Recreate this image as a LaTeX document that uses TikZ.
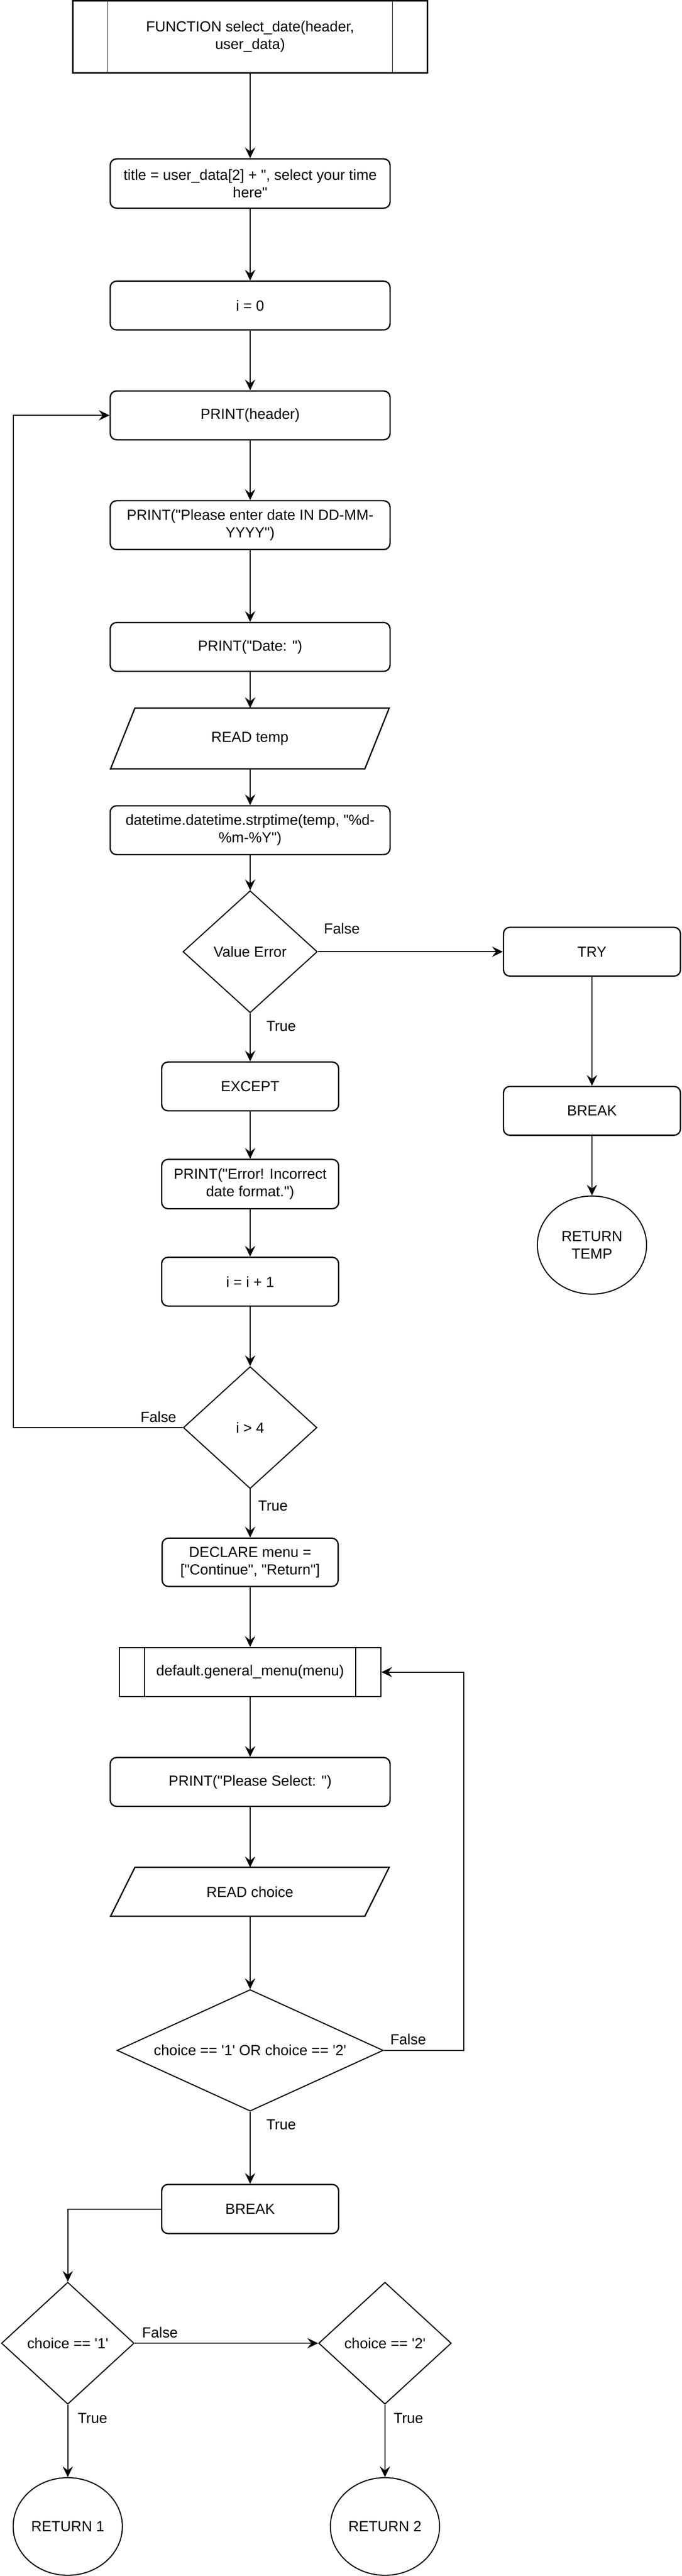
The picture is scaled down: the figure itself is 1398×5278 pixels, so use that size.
\documentclass[tikz,border=0pt]{standalone}
\usepackage{fontspec}
\newfontfamily\dfont{Liberation Sans}
\usetikzlibrary{shapes.geometric,arrows.meta,calc}
\begin{document}
\begin{tikzpicture}[x=0.5pt,y=-0.5pt,
  every node/.style={font=\dfont\fontsize{15}{18}\selectfont},
  procbox/.style={draw,line width=1.35pt,rounded corners=6.5pt,rectangle,align=center,inner sep=0pt,minimum height=50pt},
  wide/.style={minimum width=287pt},
  narrow/.style={minimum width=181.5pt},
  subbox/.style={draw,line width=1.35pt,rectangle,align=center,inner sep=0pt},
  iobox/.style={rectangle,align=center,inner sep=0pt,minimum width=285.75pt,minimum height=#1,outer sep=0pt},
  dec/.style={diamond,draw,line width=1.1pt,align=center,inner sep=0pt},
  term/.style={ellipse,draw,line width=1.1pt,align=center,inner sep=0pt,minimum width=112pt,minimum height=100.5pt},
  flow/.style={draw,line width=1pt,-{Stealth[length=11pt,width=10.5pt,inset=4pt]}},
  thin/.style={line width=1pt},
  lbl/.style={inner sep=0pt}]
\useasboundingbox (0,0) rectangle (1398,5278);

% nodes
\node[subbox,minimum width=363.5pt,minimum height=74pt] (func) at (513,75.5) {FUNCTION select\_date(header,\\user\_data)};
\node[procbox,wide,minimum height=50.5pt] (title) at (513,376) {title = user\_data[2] + ", select your time\\here"};
\node[procbox,wide] (init) at (513,626) {i = 0};
\node[procbox,wide] (phead) at (513,851) {PRINT(header)};
\node[procbox,wide] (penter) at (513,1076) {PRINT("Please enter date IN DD-MM-\\YYYY")};
\node[procbox,wide] (pdate) at (513,1325.5) {PRINT("Date: ")};
\node[iobox=62.25pt] (readtemp) at (512.5,1513) {READ temp};
\node[procbox,wide] (strp) at (513,1701) {datetime.datetime.strptime(temp, "\%d-\\\%m-\%Y")};
\node[dec,minimum width=137.75pt,minimum height=125pt,aspect=1.1] (valerr) at (513,1950) {Value Error};
\node[procbox,narrow] (tryb) at (1214,1950) {TRY};
\node[procbox,narrow] (brk1) at (1214,2276) {BREAK};
\node[term] (rettemp) at (1214,2551) {RETURN\\TEMP};
\node[procbox,narrow] (except) at (513,2226) {EXCEPT};
\node[procbox,narrow,minimum height=50.5pt] (perr) at (513,2426) {PRINT("Error! Incorrect\\date format.")};
\node[procbox,narrow] (incr) at (513,2626) {i = i + 1};
\node[dec,minimum width=137pt,minimum height=125pt,aspect=1.1] (igt4) at (513,2925) {i > 4};
\node[procbox,minimum width=180.5pt,minimum height=49.5pt] (declare) at (513,3201) {DECLARE menu =\\\relax["Continue", "Return"]};
\node[subbox,minimum width=268pt,minimum height=50.2pt] (menu) at (513,3426) {default.general\_menu(menu)};
\node[procbox,wide] (psel) at (513,3651) {PRINT("Please Select: ")};
\node[iobox=50.15pt] (readchoice) at (512.5,3876) {READ choice};
\node[dec,minimum width=273pt,minimum height=124.5pt,aspect=2.19] (bigdia) at (513,4201) {choice == \textquotesingle 1\textquotesingle\ OR choice == \textquotesingle 2\textquotesingle};
\node[procbox,narrow,minimum height=50.3pt] (brk2) at (513,4526) {BREAK};
\node[dec,minimum width=136pt,minimum height=125pt,aspect=1.1] (d1) at (139,4801) {choice == \textquotesingle 1\textquotesingle};
\node[dec,minimum width=136pt,minimum height=125pt,aspect=1.1] (d2) at (789.5,4801) {choice == \textquotesingle 2\textquotesingle};
\node[term,minimum height=100pt] (ret1) at (139,5176.5) {RETURN 1};
\node[term,minimum height=100pt] (ret2) at (789.5,5176.5) {RETURN 2};

% subroutine inner lines
\draw[thin] ($(func.north west)+(73,0)$) -- ($(func.south west)+(73,0)$);
\draw[thin] ($(func.north east)+(-73,0)$) -- ($(func.south east)+(-73,0)$);
\draw[thin] ($(menu.north west)+(53,0)$) -- ($(menu.south west)+(53,0)$);
\draw[thin] ($(menu.north east)+(-53,0)$) -- ($(menu.south east)+(-53,0)$);

% parallelograms
\draw[line width=1.35pt] ($(readtemp.north west)+(50,0)$) -- (readtemp.north east) -- ($(readtemp.south east)+(-50,0)$) -- (readtemp.south west) -- cycle;
\draw[line width=1.35pt] ($(readchoice.north west)+(50,0)$) -- (readchoice.north east) -- ($(readchoice.south east)+(-50,0)$) -- (readchoice.south west) -- cycle;

% connectors
\draw[flow] (func.south) -- (title.north);
\draw[flow] (title.south) -- (init.north);
\draw[flow] (init.south) -- (phead.north);
\draw[flow] (phead.south) -- (penter.north);
\draw[flow] (penter.south) -- (pdate.north);
\draw[flow] (pdate.south) -- (pdate.south |- readtemp.north);
\draw[flow] (readtemp.south -| strp.north) -- (strp.north);
\draw[flow] (strp.south) -- (valerr.north);
\draw[flow] (valerr.east) -- (tryb.west);
\draw[flow] (tryb.south) -- (brk1.north);
\draw[flow] (brk1.south) -- (rettemp.north);
\draw[flow] (valerr.south) -- (except.north);
\draw[flow] (except.south) -- (perr.north);
\draw[flow] (perr.south) -- (incr.north);
\draw[flow] (incr.south) -- (igt4.north);
\coordinate (lp1) at (27,2925);
\draw[flow] (igt4.west) -- (lp1) |- (phead.west);
\draw[flow] (igt4.south) -- (declare.north);
\draw[flow] (declare.south) -- (menu.north);
\draw[flow] (menu.south) -- (psel.north);
\draw[flow] (psel.south) -- (psel.south |- readchoice.north);
\draw[flow] (readchoice.south -| bigdia.north) -- (bigdia.north);
\coordinate (lp2) at (951,4201);
\draw[flow] (bigdia.east) -- (lp2) |- (menu.east);
\draw[flow] (bigdia.south) -- (brk2.north);
\draw[flow] (brk2.west) -| (d1.north);
\draw[flow] (d1.east) -- (d2.west);
\draw[flow] (d1.south) -- (ret1.north);
\draw[flow] (d2.south) -- (ret2.north);

% labels
\node[lbl,anchor=west] (l1) at (664,1903) {False};
\node[lbl,anchor=west] (l2) at (546,2103) {True};
\node[lbl,anchor=east] (l3) at (362,2903) {False};
\node[lbl,anchor=west] (l4) at (529,3085) {True};
\node[lbl,anchor=west] (l5) at (800,4178) {False};
\node[lbl,anchor=west] (l6) at (546,4353) {True};
\node[lbl,anchor=west] (l7) at (291,4779) {False};
\node[lbl,anchor=west] (l8) at (159,4955) {True};
\node[lbl,anchor=west] (l9) at (807,4955) {True};
\end{tikzpicture}
\end{document}
